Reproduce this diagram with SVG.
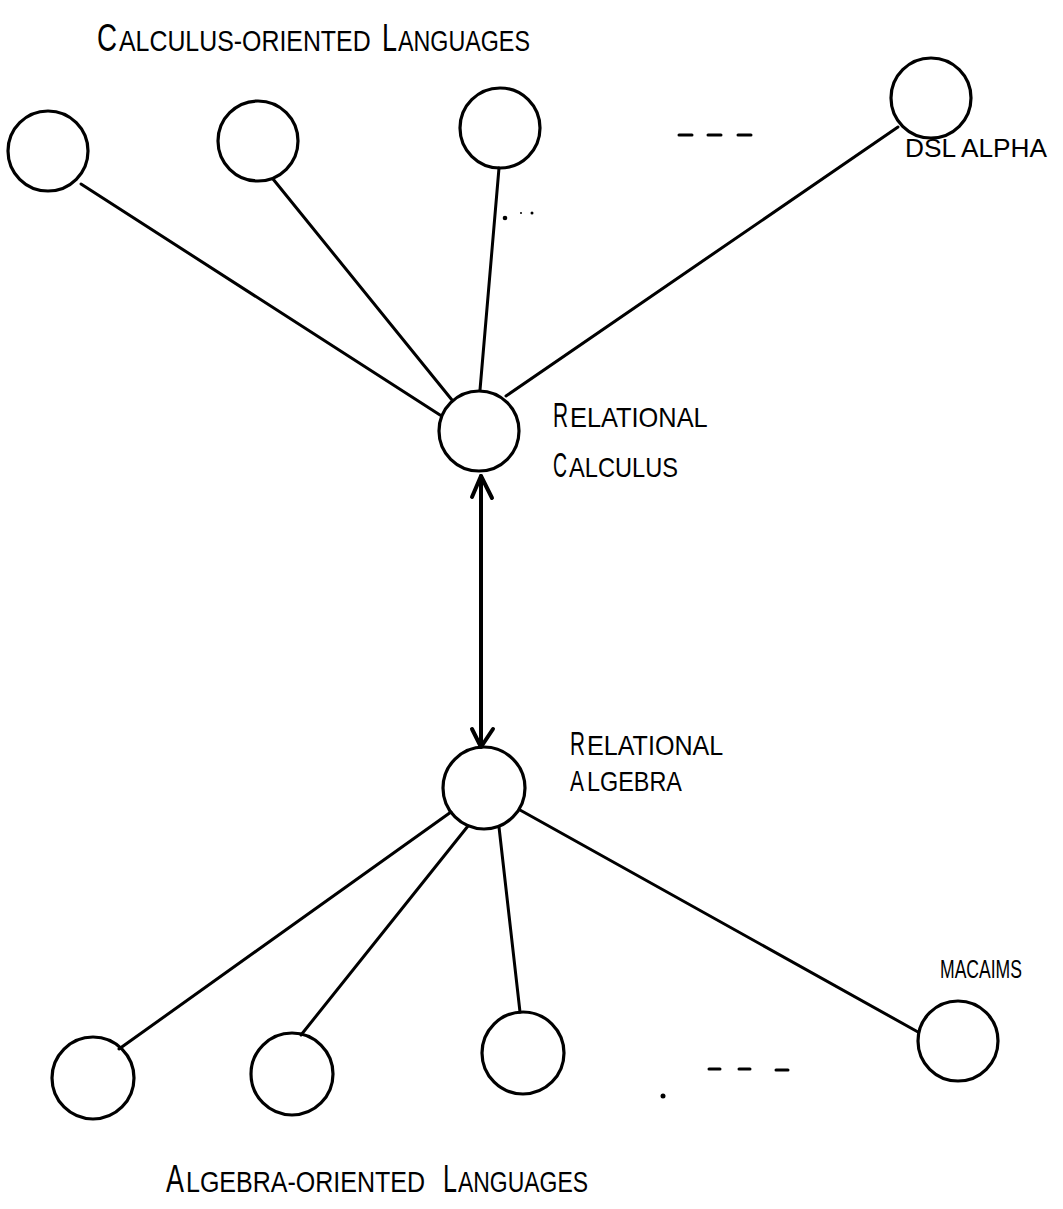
<svg xmlns="http://www.w3.org/2000/svg" width="1063" height="1209" viewBox="0 0 1063 1209">
<style>
.node{fill:none;stroke:#000;stroke-width:3.2}
.edge{stroke:#000;stroke-width:3;fill:none;stroke-linecap:round}
.arr{stroke:#000;stroke-width:4;fill:none;stroke-linecap:round;stroke-linejoin:round}
.lbl{font-family:"Liberation Sans",Arial,sans-serif;fill:#000}
.big{font-size:38px}
.sm{font-size:30px}
.lb{font-size:36px}
.ls{font-size:27px}
</style>
<rect width="1063" height="1209" fill="#fff"/>
<g id="title_top">
<text class="lbl big" transform="translate(97,51) scale(0.73,1)">C</text>
<text class="lbl sm" transform="translate(119,51) scale(0.83,1)">ALCULUS-ORIENTED</text>
<text class="lbl big" transform="translate(382,51) scale(0.71,1)">L</text>
<text class="lbl sm" transform="translate(398,51) scale(0.776,1)">ANGUAGES</text>
</g>
<g id="connectors">
<line class="edge" x1="81" y1="184" x2="440" y2="415"/>
<line class="edge" x1="273" y1="179" x2="452" y2="400"/>
<line class="edge" x1="499" y1="168" x2="480" y2="390"/>
<line class="edge" x1="898" y1="127" x2="506" y2="396"/>
<line class="arr" x1="481" y1="476" x2="481" y2="746"/>
<polyline class="arr" points="472,497 481,476 492,498"/>
<polyline class="arr" points="472,729 481,747 493,729"/>
<line class="edge" x1="451" y1="812" x2="119" y2="1049"/>
<line class="edge" x1="468" y1="826" x2="301" y2="1035"/>
<line class="edge" x1="499" y1="827" x2="520" y2="1012"/>
<line class="edge" x1="520" y1="810" x2="918" y2="1032"/>
</g>
<g id="n_c1"><circle class="node" cx="48" cy="151" r="40"/></g>
<g id="n_c2"><circle class="node" cx="258" cy="141" r="40"/></g>
<g id="n_c3"><circle class="node" cx="500" cy="128" r="40"/></g>
<g id="n_dsl"><circle class="node" cx="931" cy="98" r="40"/>
<text class="lbl" font-size="25" transform="translate(905,157) scale(1.05,1)">DSL ALPHA</text></g>
<g id="n_calc"><circle class="node" cx="479" cy="431" r="40"/>
<text class="lbl lb" transform="translate(553,427) scale(0.58,1)">R</text>
<text class="lbl ls" transform="translate(570,427) scale(0.94,1)">ELATIONAL</text>
<text class="lbl lb" transform="translate(553,477) scale(0.54,1)">C</text>
<text class="lbl ls" transform="translate(569,477) scale(0.875,1)">ALCULUS</text></g>
<g id="n_alg"><circle class="node" cx="484" cy="788" r="41"/>
<text class="lbl" font-size="34" transform="translate(570,755) scale(0.61,1)">R</text>
<text class="lbl ls" transform="translate(587,755) scale(0.93,1)">ELATIONAL</text>
<text class="lbl" font-size="30" transform="translate(570,791) scale(0.7,1)">A</text>
<text class="lbl ls" transform="translate(587,791) scale(0.867,1)">LGEBRA</text></g>
<g id="n_b1"><circle class="node" cx="93" cy="1078" r="41"/></g>
<g id="n_b2"><circle class="node" cx="292" cy="1074" r="41"/></g>
<g id="n_b3"><circle class="node" cx="523" cy="1053" r="41"/></g>
<g id="n_mac"><circle class="node" cx="958" cy="1041" r="40"/>
<text class="lbl" font-size="25" transform="translate(940,978) scale(0.703,1)">MACAIMS</text></g>
<g id="dashes">
<line class="edge" x1="679" y1="135" x2="692" y2="135"/>
<line class="edge" x1="708" y1="135" x2="721" y2="135"/>
<line class="edge" x1="738" y1="135" x2="751" y2="135"/>
<circle cx="505" cy="218" r="2.3"/>
<circle cx="521" cy="213" r="1"/>
<circle cx="532" cy="213" r="1.5"/>
<line class="edge" x1="709" y1="1069" x2="720" y2="1069"/>
<line class="edge" x1="739" y1="1069" x2="750" y2="1069"/>
<line class="edge" x1="776" y1="1070" x2="788" y2="1070"/>
<circle cx="663" cy="1096" r="2.5"/>
</g>
<g id="title_bottom">
<text class="lbl big" transform="translate(166,1192) scale(0.71,1)">A</text>
<text class="lbl sm" transform="translate(186,1192) scale(0.834,1)">LGEBRA-ORIENTED</text>
<text class="lbl big" transform="translate(443,1192) scale(0.66,1)">L</text>
<text class="lbl sm" transform="translate(458,1192) scale(0.765,1)">ANGUAGES</text>
</g>
</svg>
